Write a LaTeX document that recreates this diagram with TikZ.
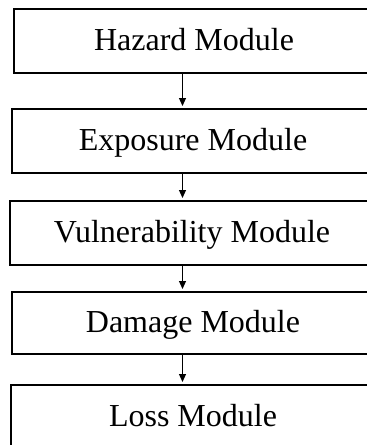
\documentclass[tikz,border=0pt]{standalone}
\usepackage{fontspec}
\setmainfont{Liberation Serif}
\usetikzlibrary{arrows.meta}
\begin{document}
\begin{tikzpicture}[x=1pt,y=-1pt,
  modbox/.style={draw=black, line width=2pt, minimum height=64pt, inner sep=0pt, outer sep=0pt,
    text height=22pt, text depth=3pt, font=\fontsize{32}{38}\selectfont, anchor=north west},
  flow/.style={-{Triangle[length=8pt,width=7pt]}, line width=1.2pt, shorten >=3pt}]
\useasboundingbox (0,0) rectangle (367,445);
\clip (0,0) rectangle (367,445);
\coordinate (ax) at (182.5,0);
\node[modbox, minimum width=360pt] (haz) at (14,9) {Hazard Module};
\node[modbox, minimum width=362pt] (exp) at (12,109) {Exposure Module};
\node[modbox, minimum width=364pt] (vul) at (10,201) {Vulnerability Module};
\node[modbox, minimum width=362pt, minimum height=62pt] (dam) at (12,292) {Damage Module};
\node[modbox, minimum width=364pt] (los) at (11,385) {Loss Module};
\draw[flow] (haz.south -| ax) -- (exp.north -| ax);
\draw[flow] (exp.south -| ax) -- (vul.north -| ax);
\draw[flow] (vul.south -| ax) -- (dam.north -| ax);
\draw[flow] (dam.south -| ax) -- (los.north -| ax);
\end{tikzpicture}
\end{document}
